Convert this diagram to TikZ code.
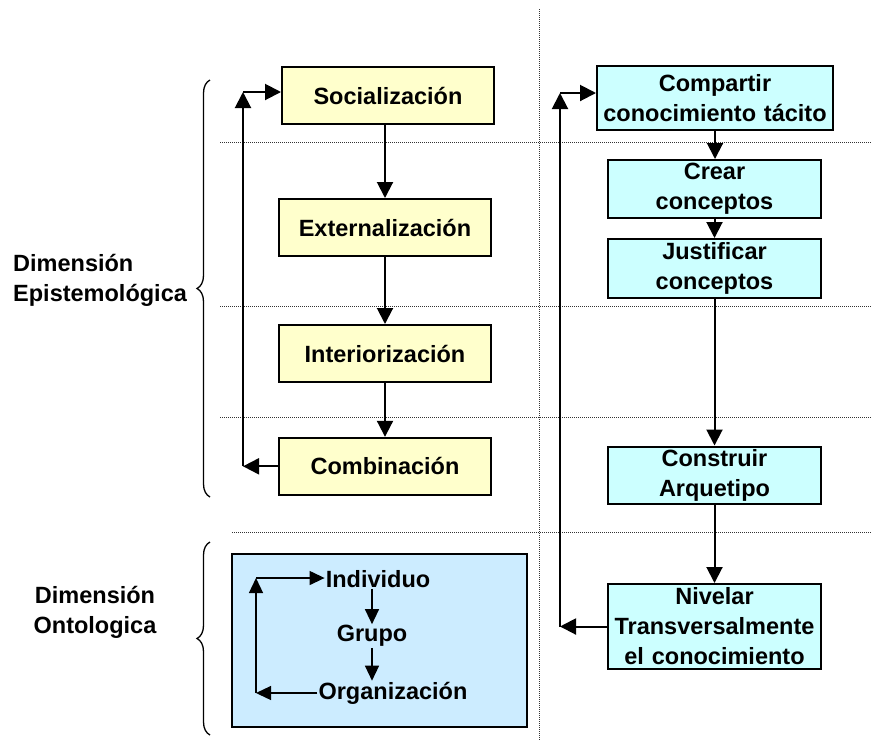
\documentclass[tikz,border=0pt]{standalone}
\usepackage{fontspec}
\setmainfont{Liberation Sans}
\usetikzlibrary{arrows.meta,decorations.pathreplacing}

\begin{document}
\begin{tikzpicture}[x=1pt,y=-1pt]
    \tikzstyle{every node} = [font=\bfseries\fontsize{23.5}{30}\selectfont]
    \tikzstyle{block} = [draw, rectangle, line width=2pt, minimum width=212pt, minimum height=57pt, inner sep=2pt]
    \tikzstyle{yellowblock} = [block, fill={rgb,255:red,255;green,255;blue,204}]
    \tikzstyle{cyanblock} = [block, fill={rgb,255:red,204;green,255;blue,255}, minimum width=213pt, text width=209pt, align=center]
    \tikzstyle{flecha} = [-{Triangle[length=16pt,width=16pt]}, line width=2pt]
    \tikzstyle{flechita} = [-{Triangle[length=15pt,width=14pt]}, line width=1.3pt]
    \tikzstyle{separador} = [densely dotted, line width=1pt, black!80]
    \tikzstyle{llave} = [decorate, decoration={brace, amplitude=13pt}, line width=1.3pt]
    \useasboundingbox (0,0) rectangle (872,740);

    % separators
    \foreach \y in {142,306,417}
        \draw[separador] (220,\y) -- (872,\y);
    \draw[separador] (232,532) -- (872,532);
    \draw[separador] (539,9) -- (539,740);

    % place nodes
    \node[yellowblock](socializacion) at (388,95.5){Socialización};
    \node[yellowblock](externalizacion) at (385,227.5){Externalización};
    \node[yellowblock](interiorizacion) at (385,353.5){Interiorización};
    \node[yellowblock](combinacion) at (385,466.3){Combinación};

    \node[cyanblock,minimum width=236pt,minimum height=64pt,text width=232pt](compartir) at (715,98){Compartir\\conocimiento tácito};
    \node[cyanblock,minimum height=58pt](crear) at (714.5,189){Crear\\conceptos};
    \node[cyanblock,minimum height=59pt](justificar) at (714.5,268.5){Justificar\\conceptos};
    \node[cyanblock](construir) at (714.5,475){Construir\\Arquetipo};
    \node[cyanblock,minimum height=85pt](nivelar) at (714.5,626.5){Nivelar\\Transversalmente\\el conocimiento};

    \node[draw, line width=1.5pt, fill={rgb,255:red,204;green,236;blue,255}, minimum width=295pt, minimum height=173pt](ontologiaBox) at (379.5,640.5){};
    \node[inner sep=1pt](individuo) at (378,579){Individuo};
    \node[inner sep=1pt](grupo) at (372,636){Grupo};
    \node[inner sep=1pt](organizacion) at (393,693){Organización};

    \node[align=left,anchor=west,inner sep=0pt,text height=16pt](dimEpistemologica) at (13,296){Dimensión\\Epistemológica};
    \node[align=center,inner sep=0pt,text height=16pt](dimOntologica) at (95,628){Dimensión\\Ontologica};

    \coordinate (loopBottomLeft) at (243,466.3);
    \coordinate (loopTopLeft) at (243,92);
    \coordinate (loopBottomRight) at (560,626.5);
    \coordinate (loopTopRight) at (560,93);
    \coordinate (ontoBottom) at (256,693);
    \coordinate (ontoTop) at (256,578);

    % Braces
    \draw[llave] (210,497) -- (210,80);
    \draw[llave] (210,735) -- (210,542);

    % Connections
    \draw[flecha] (externalizacion.north |- socializacion.south) -- (externalizacion.north);
    \draw[flecha] (externalizacion.south) -- (interiorizacion.north);
    \draw[flecha] (interiorizacion.south) -- (combinacion.north);
    \draw[flecha] (combinacion.west) -- (loopBottomLeft);
    \draw[flecha] (loopBottomLeft) -- (loopTopLeft);
    \draw[flecha] (loopTopLeft) -- (socializacion.west |- loopTopLeft);

    \draw[flecha] (compartir.south) -- (compartir.south |- crear.north);
    \draw[flecha] (crear.south) -- (justificar.north);
    \draw[flecha] (justificar.south) -- (construir.north);
    \draw[flecha] (construir.south) -- (nivelar.north);
    \draw[flecha] (nivelar.west) -- (loopBottomRight);
    \draw[flecha] (loopBottomRight) -- (loopTopRight);
    \draw[flecha] (loopTopRight) -- (compartir.west |- loopTopRight);

    \draw[flechita] (grupo.north |- individuo.south) -- (grupo.north);
    \draw[flechita] (grupo.south) -- (grupo.south |- organizacion.north);
    \draw[flechita] (organizacion.west) -- (ontoBottom);
    \draw[flechita] (ontoBottom) -- (ontoTop);
    \draw[flechita] (ontoTop) -- (individuo.west |- ontoTop);

  \end{tikzpicture}
\end{document}
